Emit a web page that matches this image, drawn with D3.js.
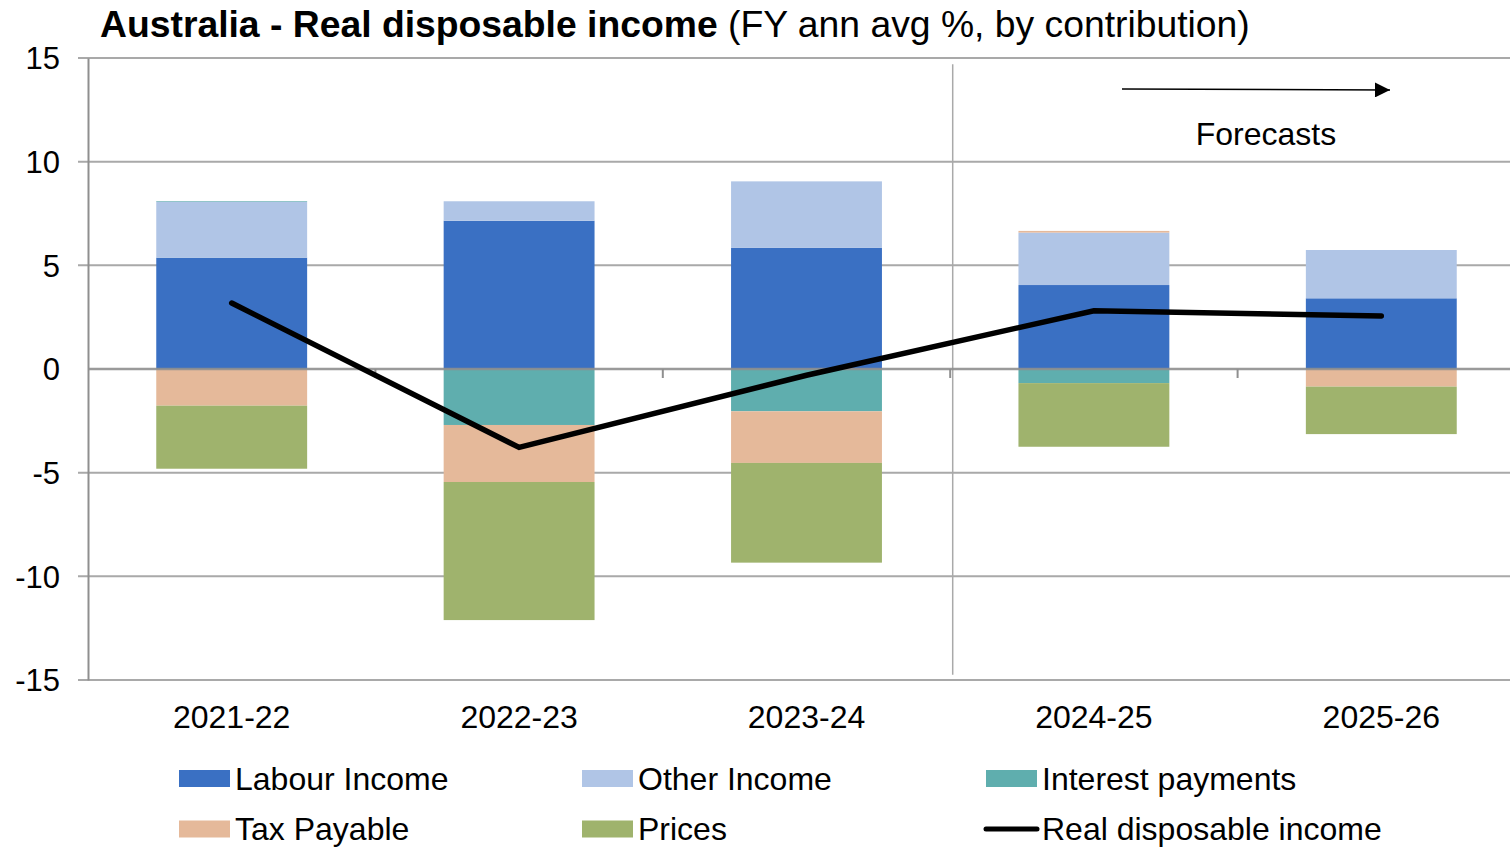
<!DOCTYPE html>
<html>
<head>
<meta charset="utf-8">
<script src="https://cdn.jsdelivr.net/npm/d3@7"></script>
<style>
  html, body { margin: 0; padding: 0; background: #fff; }
  svg { display: block; font-family: "Liberation Sans", Arial, sans-serif; }
</style>
</head>
<body>
<svg id="chart" width="1510" height="847"></svg>
<script>
// Financial years on the category axis
const categories = ["2021-22", "2022-23", "2023-24", "2024-25", "2025-26"];

// Contributions to growth in real disposable income (ppt)
const labourIncome     = [5.37, 7.15, 5.84, 4.05, 3.41];
const otherIncome      = [2.70, 0.94, 3.21, 2.53, 2.33];
const interestPayments = [0.03, -2.70, -2.04, -0.68, 0.00];
const taxPayable       = [-1.77, -2.75, -2.49, 0.08, -0.85];
const prices           = [-3.04, -6.66, -4.81, -3.07, -2.29];

// Headline series (FY annual average %)
const realDisposableIncome = [3.18, -3.78, -0.30, 2.81, 2.56];

const yTickValues = [-15, -10, -5, 0, 5, 10, 15];
const forecastStart = "2024-25";

const seriesNames  = ["Labour Income", "Other Income", "Interest payments", "Tax Payable", "Prices"];
const seriesValues = [labourIncome, otherIncome, interestPayments, taxPayable, prices];
const seriesColors = ["#3a70c3", "#b0c5e6", "#5faeae", "#e5b99a", "#9fb36d"];

const rows = categories.map((c, i) => {
  const r = { category: c };
  seriesNames.forEach((n, k) => { r[n] = seriesValues[k][i]; });
  return r;
});

const svg = d3.select("#chart");
const W = 1510;
const margin = { left: 88, top: 58, bottom: 680 };
const plotRight = 1525;

const x = d3.scaleBand()
  .domain(categories)
  .range([margin.left, plotRight])
  .paddingInner(0.475)
  .paddingOuter(0.2375);

const y = d3.scaleLinear().domain([-15, 15]).range([margin.bottom, margin.top]);

const gridColor = "#a9a9a9";

// Horizontal gridlines (with the small outside tick on the value axis)
svg.append("g")
  .selectAll("line")
  .data(yTickValues.filter(v => v !== 0))
  .join("line")
  .attr("x1", margin.left - 10)
  .attr("x2", W)
  .attr("y1", d => y(d))
  .attr("y2", d => y(d))
  .attr("stroke", gridColor)
  .attr("stroke-width", 2);

// Separator marking where the forecasts begin
const idx = categories.indexOf(forecastStart);
const sepX = (x(categories[idx - 1]) + x.bandwidth() + x(forecastStart)) / 2 + 2.5;
svg.append("line")
  .attr("x1", sepX).attr("x2", sepX)
  .attr("y1", y(14.7)).attr("y2", y(-14.75))
  .attr("stroke", "#a9a9a9")
  .attr("stroke-width", 1.5);

// Value axis (plain hyphen for negatives)
const yAxis = d3.axisLeft(y)
  .tickValues(yTickValues)
  .tickSize(0)
  .tickPadding(28)
  .tickFormat(d => String(d));
const gy = svg.append("g")
  .attr("transform", `translate(${margin.left},0)`)
  .call(yAxis);
gy.select(".domain").attr("stroke", "#8f8f8f").attr("stroke-width", 2);
gy.selectAll("text")
  .attr("font-size", 31)
  .attr("fill", "#000")
  .attr("dy", "0.35em")
  .attr("font-family", "'Liberation Sans', Arial, sans-serif");

// Stacked contributions: positives build up from zero, negatives build down
const stack = d3.stack()
  .keys(seriesNames)
  .offset(d3.stackOffsetDiverging);
const stacked = stack(rows);

svg.append("g")
  .selectAll("g")
  .data(stacked)
  .join("g")
  .attr("fill", (d, i) => seriesColors[i])
  .selectAll("rect")
  .data(d => d)
  .join("rect")
  .attr("x", d => x(d.data.category))
  .attr("width", x.bandwidth())
  .attr("y", d => y(Math.max(d[0], d[1])))
  .attr("height", d => Math.abs(y(d[0]) - y(d[1])));

// Category axis at zero, drawn above the bars
const zeroY = y(0);
svg.append("line")
  .attr("x1", margin.left).attr("x2", W)
  .attr("y1", zeroY).attr("y2", zeroY)
  .attr("stroke", "#8f8f8f")
  .attr("stroke-opacity", 0.9)
  .attr("stroke-width", 2.5);

const boundaries = categories.slice(1).map(c => x(c) - (x.step() - x.bandwidth()) / 2);
svg.append("g")
  .selectAll("line")
  .data(boundaries)
  .join("line")
  .attr("x1", d => d).attr("x2", d => d)
  .attr("y1", zeroY).attr("y2", zeroY + 9)
  .attr("stroke", "#8f8f8f")
  .attr("stroke-width", 2);

// Category labels
svg.append("g")
  .selectAll("text")
  .data(categories)
  .join("text")
  .attr("x", d => x(d) + x.bandwidth() / 2)
  .attr("y", 728)
  .attr("text-anchor", "middle")
  .attr("font-size", 32)
  .attr("fill", "#000")
  .text(d => d);

// Real disposable income line
const line = d3.line()
  .x((d, i) => x(categories[i]) + x.bandwidth() / 2)
  .y(d => y(d));
svg.append("path")
  .datum(realDisposableIncome)
  .attr("d", line)
  .attr("fill", "none")
  .attr("stroke", "#000")
  .attr("stroke-width", 5.5)
  .attr("stroke-linecap", "round")
  .attr("stroke-linejoin", "miter");

// Forecast annotation
const defs = svg.append("defs");
defs.append("marker")
  .attr("id", "arrowHead")
  .attr("viewBox", "0 0 10 10")
  .attr("refX", 10).attr("refY", 5)
  .attr("markerWidth", 17).attr("markerHeight", 15)
  .attr("markerUnits", "userSpaceOnUse")
  .attr("orient", "auto")
  .append("path")
  .attr("d", "M0,0 L10,5 L0,10 Z")
  .attr("fill", "#000");

svg.append("line")
  .attr("x1", 1122).attr("x2", 1390)
  .attr("y1", 89).attr("y2", 90)
  .attr("stroke", "#000")
  .attr("stroke-width", 1.5)
  .attr("marker-end", "url(#arrowHead)");

svg.append("text")
  .attr("x", 1266)
  .attr("y", 145)
  .attr("text-anchor", "middle")
  .attr("font-size", 32)
  .attr("fill", "#000")
  .text("Forecasts");

// Title
const title = svg.append("text")
  .attr("x", 100)
  .attr("y", 37)
  .attr("font-size", 37.3)
  .attr("fill", "#000");
title.append("tspan").attr("font-weight", "bold").text("Australia - Real disposable income");
title.append("tspan").attr("font-weight", "normal").text(" (FY ann avg %, by contribution)");

// Legend
const legendItems = [
  { name: "Labour Income",          color: seriesColors[0], kind: "box",  col: 0, row: 0 },
  { name: "Other Income",           color: seriesColors[1], kind: "box",  col: 1, row: 0 },
  { name: "Interest payments",      color: seriesColors[2], kind: "box",  col: 2, row: 0 },
  { name: "Tax Payable",            color: seriesColors[3], kind: "box",  col: 0, row: 1 },
  { name: "Prices",                 color: seriesColors[4], kind: "box",  col: 1, row: 1 },
  { name: "Real disposable income", color: "#000",          kind: "line", col: 2, row: 1 }
];
const colX = [179, 582, 986];
const rowY = [778.5, 829];

const lg = svg.append("g")
  .selectAll("g")
  .data(legendItems)
  .join("g")
  .attr("transform", d => `translate(${colX[d.col]},${rowY[d.row]})`);

lg.filter(d => d.kind === "box")
  .append("rect")
  .attr("x", 0).attr("y", -8.5)
  .attr("width", 51).attr("height", 17)
  .attr("fill", d => d.color);

lg.filter(d => d.kind === "line")
  .append("line")
  .attr("x1", 0).attr("x2", 51)
  .attr("y1", 0).attr("y2", 0)
  .attr("stroke", "#000")
  .attr("stroke-width", 5)
  .attr("stroke-linecap", "round");

lg.append("text")
  .attr("x", 56)
  .attr("y", 11)
  .attr("font-size", 32)
  .attr("fill", "#000")
  .text(d => d.name);
</script>
</body>
</html>
